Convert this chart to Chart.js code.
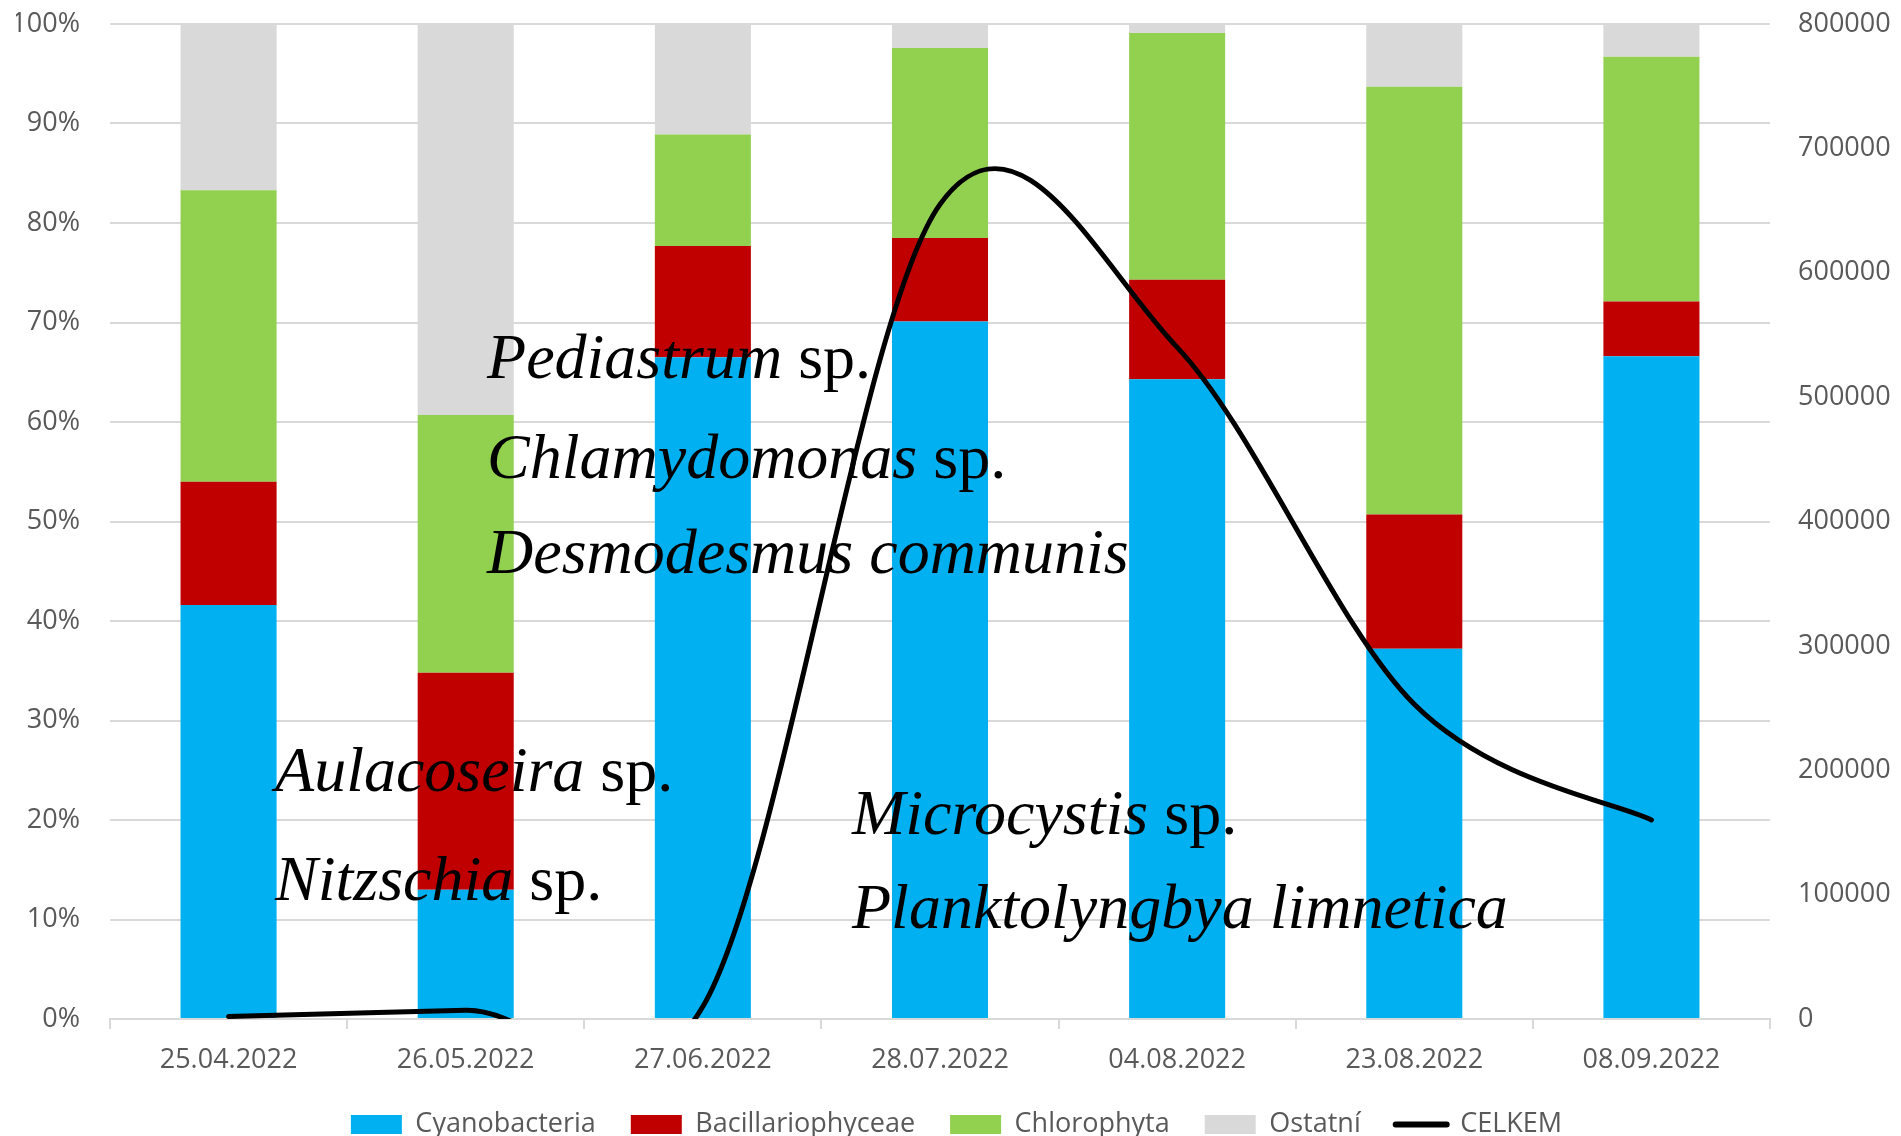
<!DOCTYPE html>
<html>
<head>
<meta charset="utf-8">
<script src="https://cdn.jsdelivr.net/npm/chart.js@4.4.0/dist/chart.umd.min.js"></script>
<style>
  html, body { margin: 0; padding: 0; background: #fff; }
  #obal { width: 1901px; height: 1136px; position: relative; }
</style>
</head>
<body>
<div id="obal"><canvas id="grafica"></canvas></div>
<script>
// data (podil skupin v % a celkovy pocet)
const datumy = ['25.04.2022', '26.05.2022', '27.06.2022', '28.07.2022', '04.08.2022', '23.08.2022', '08.09.2022'];
const cyanobacteria = [41.6, 13.0, 66.5, 70.1, 64.3, 37.2, 66.6];
const bacillariophyceae = [12.4, 21.8, 11.2, 8.4, 10.0, 13.5, 5.5];
const chlorophyta = [29.3, 25.9, 11.2, 19.1, 24.8, 43.0, 24.6];
const ostatni = [16.7, 39.3, 11.1, 2.4, 0.9, 6.3, 3.3];
const celkem = [2000, 7000, 10000, 655000, 540000, 253000, 160000];

// popisky druhu: kurziva + obycejny text, x v jednotkach kategorie, y v %
const popisky = [
    { kurziva: 'Pediastrum', text: ' sp.', x: 1.09, y: 64.4 },
    { kurziva: 'Chlamydomonas', text: ' sp.', x: 1.09, y: 54.4 },
    { kurziva: 'Desmodesmus communis', text: '', x: 1.09, y: 44.8 },
    { kurziva: 'Aulacoseira', text: ' sp.', x: 0.196, y: 22.9 },
    { kurziva: 'Nitzschia', text: ' sp.', x: 0.196, y: 12.0 },
    { kurziva: 'Microcystis', text: ' sp.', x: 2.629, y: 18.6 },
    { kurziva: 'Planktolyngbya limnetica', text: '', x: 2.629, y: 9.1 }
];

const pismo = { family: 'Open Sans', size: 27 };
const sedaText = '#595959';
const sedaMrizka = '#d9d9d9';

// vyhlazeni cary jako v Excelu (Catmull-Rom, 1/6)
const excelSpline = {
    id: 'excelSpline',
    beforeDatasetsDraw(chart) {
        chart.data.datasets.forEach((ds, i) => {
            if (ds.type !== 'line') return;
            const meta = chart.getDatasetMeta(i);
            const line = meta.dataset;
            line.updateControlPoints(chart.chartArea, 'x');
            const pts = meta.data;
            const n = pts.length;
            for (let k = 0; k < n; k++) {
                const prev = pts[Math.max(k - 1, 0)];
                const next = pts[Math.min(k + 1, n - 1)];
                const dx = (next.x - prev.x) / 6;
                const dy = (next.y - prev.y) / 6;
                pts[k].cp1x = pts[k].x - dx;
                pts[k].cp1y = pts[k].y - dy;
                pts[k].cp2x = pts[k].x + dx;
                pts[k].cp2y = pts[k].y + dy;
            }
            line._path = undefined;
        });
    }
};

const popiskyPlugin = {
    id: 'popisky',
    afterDatasetsDraw(chart) {
        const ctx = chart.ctx;
        const sx = chart.scales.x;
        const sy = chart.scales.y;
        ctx.save();
        ctx.fillStyle = '#000';
        ctx.textBaseline = 'alphabetic';
        ctx.textAlign = 'left';
        popisky.forEach(p => {
            let x = sx.getPixelForValue(p.x);
            const y = sy.getPixelForValue(p.y);
            ctx.font = 'italic 64px "Liberation Serif"';
            ctx.fillText(p.kurziva, x, y);
            x += ctx.measureText(p.kurziva).width;
            if (p.text) {
                ctx.font = '64px "Liberation Serif"';
                ctx.fillText(p.text, x, y);
            }
        });
        ctx.restore();
    }
};

// svisle osy: pevna sirka, bez extra odsazeni nahore/dole
function pevnaOsa(sirka) {
    return s => {
        s.width = sirka;
        s.paddingTop = 0;
        s.paddingBottom = 0;
    };
}

var ctx = document.getElementById('grafica').getContext('2d');

var graf = new Chart(ctx, {
    data: {
        labels: datumy,
        datasets: [{
            type: 'bar',
            label: 'Cyanobacteria',
            data: cyanobacteria,
            backgroundColor: '#00B0F0',
            yAxisID: 'y',
            order: 1
        }, {
            type: 'bar',
            label: 'Bacillariophyceae',
            data: bacillariophyceae,
            backgroundColor: '#C00000',
            yAxisID: 'y',
            order: 1
        }, {
            type: 'bar',
            label: 'Chlorophyta',
            data: chlorophyta,
            backgroundColor: '#92D050',
            yAxisID: 'y',
            order: 1
        }, {
            type: 'bar',
            label: 'Ostatní',
            data: ostatni,
            backgroundColor: '#D9D9D9',
            yAxisID: 'y',
            order: 1
        }, {
            type: 'line',
            label: 'CELKEM',
            data: celkem,
            borderColor: '#000',
            backgroundColor: '#000',
            borderWidth: 5,
            pointRadius: 0,
            tension: 0.4,
            capBezierPoints: false,
            borderCapStyle: 'round',
            yAxisID: 'y1',
            order: 0
        }]
    },
    options: {
        responsive: true,
        maintainAspectRatio: false,
        animation: false,
        devicePixelRatio: 1,
        layout: { padding: { top: 24, left: 16, right: 4, bottom: -12 } },
        datasets: {
            bar: { categoryPercentage: 1, barPercentage: 0.405 }
        },
        elements: { line: { capBezierPoints: false } },
        plugins: {
            tooltip: { enabled: false },
            legend: {
                position: 'bottom',
                labels: {
                    usePointStyle: true,
                    pointStyleWidth: 51,
                    boxHeight: 19,
                    padding: 35,
                    color: sedaText,
                    font: pismo,
                    sort: (a, b) => a.datasetIndex - b.datasetIndex,
                    generateLabels(chart) {
                        const polozky = Chart.defaults.plugins.legend.labels.generateLabels(chart);
                        polozky.forEach(it => {
                            const ds = chart.data.datasets[it.datasetIndex];
                            if (ds.type === 'line') {
                                it.pointStyle = 'line';
                                it.lineWidth = 6;
                                it.strokeStyle = '#000';
                                it.lineCap = 'round';
                            } else {
                                it.pointStyle = 'rect';
                                it.lineWidth = 0;
                            }
                        });
                        return polozky;
                    }
                }
            }
        },
        scales: {
            x: {
                stacked: true,
                grid: {
                    drawOnChartArea: false,
                    drawTicks: true,
                    tickLength: 10,
                    color: sedaMrizka,
                    lineWidth: 2,
                    offset: true
                },
                border: { color: sedaMrizka, width: 2 },
                ticks: { color: sedaText, font: pismo, padding: 15, maxRotation: 0 },
                afterFit: s => { s.height = 57; }
            },
            y: {
                stacked: true,
                min: 0,
                max: 100,
                grid: { color: sedaMrizka, lineWidth: 2, drawTicks: false },
                border: { display: false },
                ticks: {
                    stepSize: 10,
                    padding: 30,
                    color: sedaText,
                    font: pismo,
                    callback: v => v + '%'
                },
                afterFit: pevnaOsa(94)
            },
            y1: {
                position: 'right',
                min: 0,
                max: 800000,
                grid: { drawOnChartArea: false, drawTicks: false },
                border: { display: false },
                ticks: {
                    stepSize: 100000,
                    padding: 28,
                    color: sedaText,
                    font: pismo,
                    callback: v => String(v)
                },
                afterFit: pevnaOsa(127)
            }
        }
    },
    plugins: [excelSpline, popiskyPlugin]
});
</script>
</body>
</html>
